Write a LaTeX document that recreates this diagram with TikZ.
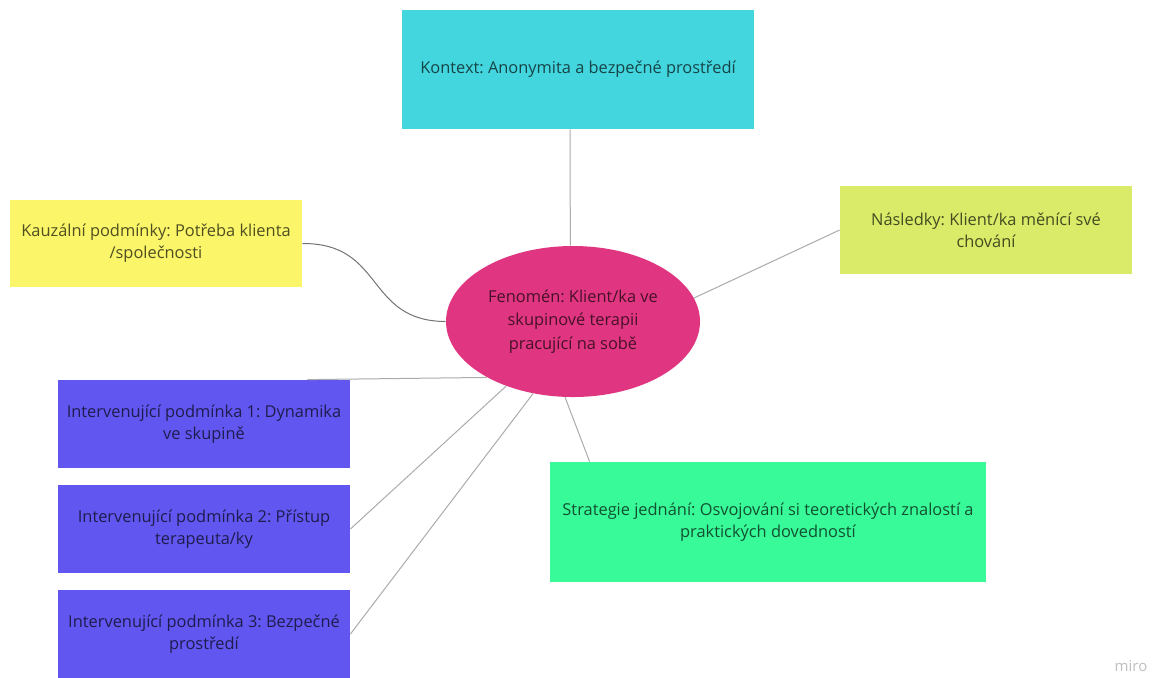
\documentclass[tikz,border=0pt]{standalone}
\usepackage{fontspec}
\setmainfont{Open Sans}
\usetikzlibrary{shapes.geometric,calc}
\definecolor{kontextc}{HTML}{44D6DE}
\definecolor{kauzc}{HTML}{FAF569}
\definecolor{nasc}{HTML}{D9EB68}
\definecolor{fenc}{HTML}{E03580}
\definecolor{intc}{HTML}{6157F0}
\definecolor{stratc}{HTML}{38FA98}
\definecolor{linec}{HTML}{ABABAB}
\tikzset{
 bx/.style={rectangle,inner sep=0pt,align=center,text opacity=0.68,
  font=\fontsize{8.2}{11}\selectfont\frenchspacing},
 ln/.style={draw=linec,line width=0.5pt},
 cv/.style={draw=black!55,line width=0.5pt}}

\begin{document}
\begin{tikzpicture}[x=0.5pt,y=-0.5pt]
 \useasboundingbox (0,0) rectangle (1154,677);
 \node[bx,fill=kontextc,minimum width=176pt,minimum height=59.5pt] (kon) at (578,69.5)
  {Kontext: Anonymita a bezpečné prostředí};
 \node[bx,fill=kauzc,minimum width=146pt,minimum height=43.5pt] (kauz) at (156,243.5)
  {Kauzální podmínky: Potřeba klienta\\/společnosti};
 \node[bx,fill=nasc,minimum width=146pt,minimum height=44pt] (nas) at (986,230)
  {Následky: Klient/ka měnící své\\chování};
 \node[bx,ellipse,fill=fenc,minimum width=127pt,minimum height=75.5pt,
  font=\fontsize{8.2}{11.7}\selectfont\frenchspacing] (fen) at (573,321.5)
  {Fenomén: Klient/ka ve\\skupinové terapii\\pracující na sobě};
 \node[bx,fill=intc,minimum width=146pt,minimum height=44pt] (int1) at (204,424)
  {Intervenující podmínka 1: Dynamika\\ve skupině};
 \node[bx,fill=intc,minimum width=146pt,minimum height=44pt] (int2) at (204,529)
  {Intervenující podmínka 2: Přístup\\terapeuta/ky};
 \node[bx,fill=intc,minimum width=146pt,minimum height=44pt] (int3) at (204,634)
  {Intervenující podmínka 3: Bezpečné\\prostředí};
 \node[bx,fill=stratc,minimum width=218pt,minimum height=60pt] (strat) at (768,522)
  {Strategie jednání: Osvojování si teoretických znalostí a\\praktických dovedností};
 \node[font=\fontsize{7.5}{9}\selectfont,text=black!25] (miro) at (1131,666) {miro};
 % connectors
 \draw[ln] ($(kon.south)+(-8,0)$) -- (fen.92);
 \draw[cv] (kauz.east) .. controls (385,243) and (365,321) .. (fen.west);
 \draw[ln] (fen.11) -- (nas.west);
 \draw[ln] (fen.213) -- ($(int1.north east)+(-43,0)$);
 \draw[ln] (fen.224) -- (int2.east);
 \draw[ln] (fen.241) -- (int3.east);
 \draw[ln] (fen.264) -- ($(strat.north west)+(40,0)$);
\end{tikzpicture}
\end{document}
